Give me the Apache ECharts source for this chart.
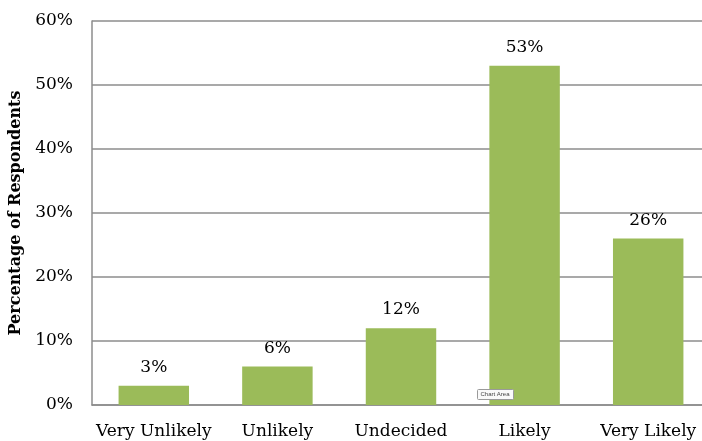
<!DOCTYPE html>
<html>
<head>
<meta charset="utf-8">
<script src="https://cdn.jsdelivr.net/npm/echarts@6/dist/echarts.min.js"></script>
<style>html,body{margin:0;padding:0;background:#fff}#c{width:702px;height:441px}</style>
</head>
<body>
<div id="c"></div>
<script>
var categories = ['Very Unlikely', 'Unlikely', 'Undecided', 'Likely', 'Very Likely'];
var values = [3, 6, 12, 53, 26];
var yTicks = [0, 10, 20, 30, 40, 50, 60];
var yTitle = 'Percentage of Respondents';

var chart = echarts.init(document.getElementById('c'));
var serif = '"DejaVu Serif", "Liberation Serif", serif';
chart.setOption({
  animation: false,
  grid: { left: 92, right: -8, top: 21, bottom: 36, outerBoundsMode: 'none', containLabel: false },
  xAxis: {
    type: 'category',
    data: categories,
    axisLine: { lineStyle: { color: '#8c8c8c', width: 1.5 } },
    axisTick: { show: false },
    axisLabel: { interval: 0, color: '#000', fontFamily: serif, fontSize: 17, margin: 18 }
  },
  yAxis: {
    type: 'value',
    min: yTicks[0], max: yTicks[yTicks.length - 1], interval: 10,
    name: yTitle,
    nameLocation: 'middle',
    nameGap: 68,
    nameTextStyle: { color: '#000', fontFamily: serif, fontSize: 16, fontWeight: 'bold' },
    axisLine: { show: true, lineStyle: { color: '#8c8c8c', width: 1.5 } },
    axisTick: { show: false },
    splitLine: { lineStyle: { color: '#8c8c8c', width: 1.5 } },
    axisLabel: { color: '#000', fontFamily: serif, fontSize: 17, margin: 19, formatter: '{value}%' }
  },
  series: [{
    type: 'bar',
    data: values,
    barWidth: '57%',
    itemStyle: { color: '#9bbb59' },
    label: { show: true, position: 'top', distance: 10, color: '#000', fontFamily: serif, fontSize: 17, formatter: '{c}%' }
  }],
  graphic: [{
    type: 'group', left: 477, top: 389, z: 100,
    children: [
      { type: 'rect', z: 100, shape: { x: 0, y: 0, width: 36, height: 10, r: 1 }, style: { fill: '#fafafa', stroke: '#9a9a9a', lineWidth: 1 } },
      { type: 'text', z: 101, x: 3, y: 2, style: { text: 'Chart Area', fontSize: 6, fontFamily: 'Liberation Sans, sans-serif', fill: '#444' } }
    ]
  }]
});
</script>
</body>
</html>
